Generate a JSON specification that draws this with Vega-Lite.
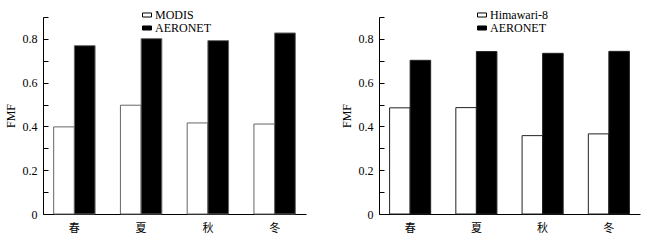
{
  "$schema": "https://vega.github.io/schema/vega-lite/v6.json",
  "padding": {"left": 4, "top": 9, "right": 5, "bottom": 5},
  "spacing": 34,
  "background": "white",
  "datasets": {
    "modis": [
      {"season": "春", "source": "MODIS", "fmf": 0.398},
      {"season": "春", "source": "AERONET", "fmf": 0.769},
      {"season": "夏", "source": "MODIS", "fmf": 0.497},
      {"season": "夏", "source": "AERONET", "fmf": 0.801},
      {"season": "秋", "source": "MODIS", "fmf": 0.416},
      {"season": "秋", "source": "AERONET", "fmf": 0.792},
      {"season": "冬", "source": "MODIS", "fmf": 0.411},
      {"season": "冬", "source": "AERONET", "fmf": 0.827}
    ],
    "himawari": [
      {"season": "春", "source": "Himawari-8", "fmf": 0.485},
      {"season": "春", "source": "AERONET", "fmf": 0.702},
      {"season": "夏", "source": "Himawari-8", "fmf": 0.486},
      {"season": "夏", "source": "AERONET", "fmf": 0.742},
      {"season": "秋", "source": "Himawari-8", "fmf": 0.358},
      {"season": "秋", "source": "AERONET", "fmf": 0.734},
      {"season": "冬", "source": "Himawari-8", "fmf": 0.366},
      {"season": "冬", "source": "AERONET", "fmf": 0.743}
    ]
  },
  "config": {
    "view": {"stroke": null},
    "font": "Liberation Serif",
    "axis": {
      "domainColor": "black",
      "tickColor": "black",
      "grid": false,
      "labelColor": "black",
      "titleColor": "black",
      "labelFont": "Liberation Serif",
      "titleFont": "Liberation Serif",
      "labelFontSize": 12,
      "titleFontSize": 12,
      "titleFontWeight": "normal"
    },
    "legend": {
      "labelFont": "Liberation Serif",
      "labelFontSize": 12,
      "labelColor": "black"
    }
  },
  "hconcat": [
    {
      "width": 263,
      "height": 197,
      "data": {"name": "modis"},
      "mark": {"type": "bar", "stroke": "#666", "strokeWidth": 1},
      "encoding": {
        "x": {
          "field": "season", "type": "nominal", "sort": ["春", "夏", "秋", "冬"],
          "scale": {"paddingInner": 0.38, "paddingOuter": 0.16},
          "axis": {"title": null, "ticks": false, "labelAngle": 0, "labelPadding": 8, "labelFont": "Noto Sans CJK SC", "labelFontSize": 11}
        },
        "xOffset": {"field": "source", "type": "nominal", "sort": ["MODIS", "AERONET"], "scale": {"paddingInner": 0, "paddingOuter": 0}},
        "y": {
          "field": "fmf", "type": "quantitative",
          "scale": {"domain": [0, 0.9], "nice": false},
          "axis": {
            "title": "FMF",
            "values": [0, 0.1, 0.2, 0.3, 0.4, 0.5, 0.6, 0.7, 0.8, 0.9],
            "format": ".1~f",
            "labelExpr": "round(datum.value*10)%2==0 ? datum.label : ''",
            "tickSize": -5,
            "labelPadding": 11,
            "titlePadding": 5
          }
        },
        "fill": {
          "field": "source", "type": "nominal",
          "scale": {"domain": ["MODIS", "AERONET"], "range": ["white", "black"]},
          "legend": {
            "title": null, "orient": "none", "legendX": 98, "legendY": -8,
            "symbolType": "M-1,-0.45H1V0.45H-1Z", "symbolSize": 81,
            "symbolStrokeColor": "black", "symbolStrokeWidth": 1,
            "rowPadding": 1, "labelOffset": 2
          }
        }
      }
    },
    {
      "width": 261,
      "height": 197,
      "data": {"name": "himawari"},
      "mark": {"type": "bar", "stroke": "#222", "strokeWidth": 1},
      "encoding": {
        "x": {
          "field": "season", "type": "nominal", "sort": ["春", "夏", "秋", "冬"],
          "scale": {"paddingInner": 0.38, "paddingOuter": 0.16},
          "axis": {"title": null, "ticks": false, "labelAngle": 0, "labelPadding": 8, "labelFont": "Noto Sans CJK SC", "labelFontSize": 11}
        },
        "xOffset": {"field": "source", "type": "nominal", "sort": ["Himawari-8", "AERONET"], "scale": {"paddingInner": 0, "paddingOuter": 0}},
        "y": {
          "field": "fmf", "type": "quantitative",
          "scale": {"domain": [0, 0.9], "nice": false},
          "axis": {
            "title": "FMF",
            "values": [0, 0.1, 0.2, 0.3, 0.4, 0.5, 0.6, 0.7, 0.8, 0.9],
            "format": ".1~f",
            "labelExpr": "round(datum.value*10)%2==0 ? datum.label : ''",
            "tickSize": -5,
            "labelPadding": 11,
            "titlePadding": 5
          }
        },
        "fill": {
          "field": "source", "type": "nominal",
          "scale": {"domain": ["Himawari-8", "AERONET"], "range": ["white", "black"]},
          "legend": {
            "title": null, "orient": "none", "legendX": 97, "legendY": -8,
            "symbolType": "M-1,-0.45H1V0.45H-1Z", "symbolSize": 81,
            "symbolStrokeColor": "black", "symbolStrokeWidth": 1,
            "rowPadding": 1, "labelOffset": 2
          }
        }
      }
    }
  ],
  "resolve": {"scale": {"fill": "independent", "xOffset": "independent"}, "legend": {"fill": "independent"}}
}
